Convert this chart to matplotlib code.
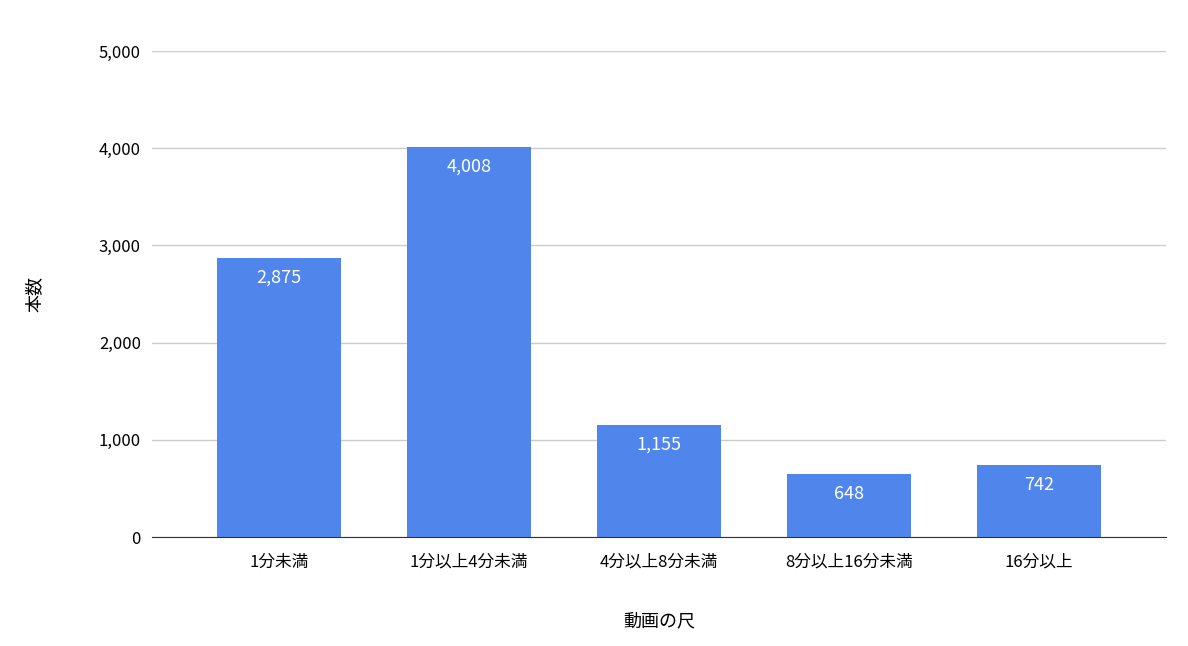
import matplotlib
matplotlib.use("Agg")
import matplotlib.pyplot as plt

plt.rcParams['font.family'] = ['Noto Sans CJK JP', 'DejaVu Sans']

categories = ["1分未満", "1分以上4分未満", "4分以上8分未満", "8分以上16分未満", "16分以上"]
values = [2875, 4008, 1155, 648, 742]
yticks = [0, 1000, 2000, 3000, 4000, 5000]

fig = plt.figure(figsize=(11.88, 6.46), dpi=100)
ax = fig.add_axes([152/1188, 1-537/646, (1166-152)/1188, (537-51)/646])
x = list(range(len(categories)))
ax.bar(x, values, width=0.65, color="#5086ec", zorder=2)
for xi, v in zip(x, values):
    ax.text(xi, v - 110, f"{v:,}", ha="center", va="top", color="white", fontsize=13, zorder=3)
ax.set_xlim(-0.668, 4.668)
ax.set_ylim(0, 5000)
ax.set_yticks(yticks)
ax.set_yticklabels([f"{t:,}" for t in yticks], fontsize=12)
ax.set_xticks(x)
ax.set_xticklabels(categories, fontsize=12)
ax.grid(axis="y", color="#cccccc", linewidth=1, zorder=0)
for s in ["top", "right", "left"]:
    ax.spines[s].set_visible(False)
ax.spines["bottom"].set_color("#333333")
ax.tick_params(length=0, pad=8)
ax.tick_params(axis="x", pad=12)
ax.set_xlabel("動画の尺", fontsize=13, labelpad=30)
ax.set_ylabel("本数", fontsize=13, labelpad=40)
fig.savefig("out.png", dpi=100)
